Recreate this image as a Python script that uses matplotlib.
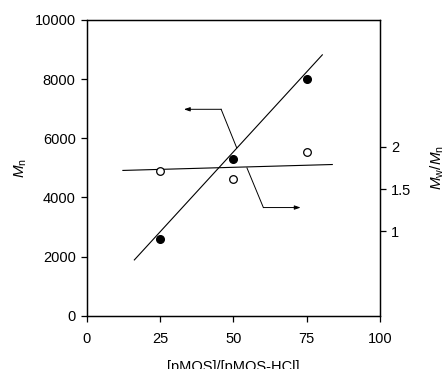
import matplotlib
matplotlib.use("Agg")
import matplotlib.pyplot as plt

plt.rcParams["font.family"] = ["Liberation Sans", "DejaVu Sans"]
plt.rcParams["mathtext.fontset"] = "custom"
plt.rcParams["mathtext.it"] = "Liberation Sans:italic"
plt.rcParams["mathtext.rm"] = "Liberation Sans"

# data
ratio = [25, 50, 75]
mn = [2600, 5300, 8000]
pdi = [1.71, 1.62, 1.94]

# fitted lines (end points)
mn_fit_x = [16.2, 80.3]
mn_fit_y = [1890, 8820]
pdi_fit_x = [12.3, 83.7]
pdi_fit_y = [1.72, 1.79]

# pointer arrows (in Mn / x coordinates)
left_arrow_x = [51.1, 45.8, 33.1]
left_arrow_y = [5680, 6980, 6980]
right_arrow_x = [54.6, 60.2, 72.9]
right_arrow_y = [5000, 3660, 3660]

fig = plt.figure(figsize=(4.43, 3.69), dpi=100)
ax = fig.add_axes([0.196, 0.144, 0.662, 0.802])
ax2 = ax.twinx()

ax.plot(ratio, mn, "o", color="black", markersize=5.5, zorder=3)
ax.plot(mn_fit_x, mn_fit_y, color="black", linewidth=0.8)

ax2.plot(ratio, pdi, "o", markerfacecolor="white", markeredgecolor="black",
         markeredgewidth=0.9, markersize=5.5, zorder=3)
ax2.plot(pdi_fit_x, pdi_fit_y, color="black", linewidth=0.8)

for xs, ys in [(left_arrow_x, left_arrow_y), (right_arrow_x, right_arrow_y)]:
    ax.plot(xs[:2], ys[:2], color="black", linewidth=0.7)
    ax.annotate("", xy=(xs[2], ys[2]), xytext=(xs[1], ys[1]),
                arrowprops=dict(arrowstyle="-|>,head_length=0.35,head_width=0.12",
                                color="black", linewidth=0.7,
                                shrinkA=0, shrinkB=0))

ax.set_xlim(0, 100)
ax.set_ylim(0, 10000)
ax.set_xticks([0, 25, 50, 75, 100])
ax.set_yticks([0, 2000, 4000, 6000, 8000, 10000])
ax2.set_ylim(0, 3.5)
ax2.set_yticks([1, 1.5, 2])
ax2.set_yticklabels(["1", "1.5", "2"])

for a in (ax, ax2):
    a.tick_params(direction="out", length=4, width=0.9, labelsize=10.5, pad=4)
    for s in a.spines.values():
        s.set_linewidth(0.9)
ax.tick_params(axis="x", pad=7.5)

ax.set_xlabel("[pMOS]/[pMOS-HCl]", fontsize=10.5, labelpad=10)
ax.set_ylabel("$M_\\mathrm{n}$", fontsize=11, labelpad=4)
ax2.set_ylabel("$M_\\mathrm{w}/M_\\mathrm{n}$", fontsize=11, rotation=90, labelpad=12)

fig.savefig("out.png", dpi=100)
